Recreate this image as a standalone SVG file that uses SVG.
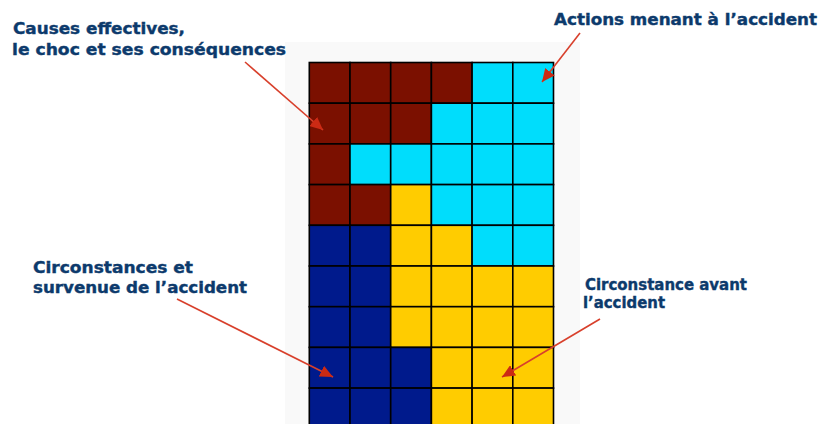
<svg xmlns="http://www.w3.org/2000/svg" width="822" height="424" viewBox="0 0 822 424">
<defs>
<style>
.lbl{font-family:"DejaVu Sans","Liberation Sans",sans-serif;font-weight:bold;font-size:16px;fill:#0c3a6c;stroke:#0c3a6c;stroke-width:0.4}
.c{stroke:#000;stroke-width:1.6}
.b{fill:#7b1000}.y{fill:#ffcc00}.k{fill:#00ddfc}.n{fill:#001a8c}
.arr{stroke:#d8402c;stroke-width:1.6;fill:none;marker-end:url(#ah)}
</style>
<marker id="ah" markerUnits="userSpaceOnUse" markerWidth="14" markerHeight="12" refX="13" refY="6" orient="auto">
<path d="M0,0 L13,6 L0,12 Z" fill="#cc2a14"/>
</marker>
</defs>
<rect width="822" height="424" fill="#fff"/>
<rect x="285" y="42" width="295" height="382" fill="#f9f9f9"/>
<g id="grid">
<g transform="translate(309.3,62.5)">
<!-- row 0 -->
<rect class="c b" x="0" y="0" width="40.7" height="40.7"/><rect class="c b" x="40.7" y="0" width="40.7" height="40.7"/><rect class="c b" x="81.4" y="0" width="40.7" height="40.7"/><rect class="c b" x="122.1" y="0" width="40.7" height="40.7"/><rect class="c k" x="162.8" y="0" width="40.7" height="40.7"/><rect class="c k" x="203.5" y="0" width="40.7" height="40.7"/>
<!-- row 1 -->
<rect class="c b" x="0" y="40.7" width="40.7" height="40.7"/><rect class="c b" x="40.7" y="40.7" width="40.7" height="40.7"/><rect class="c b" x="81.4" y="40.7" width="40.7" height="40.7"/><rect class="c k" x="122.1" y="40.7" width="40.7" height="40.7"/><rect class="c k" x="162.8" y="40.7" width="40.7" height="40.7"/><rect class="c k" x="203.5" y="40.7" width="40.7" height="40.7"/>
<!-- row 2 -->
<rect class="c b" x="0" y="81.4" width="40.7" height="40.7"/><rect class="c k" x="40.7" y="81.4" width="40.7" height="40.7"/><rect class="c k" x="81.4" y="81.4" width="40.7" height="40.7"/><rect class="c k" x="122.1" y="81.4" width="40.7" height="40.7"/><rect class="c k" x="162.8" y="81.4" width="40.7" height="40.7"/><rect class="c k" x="203.5" y="81.4" width="40.7" height="40.7"/>
<!-- row 3 -->
<rect class="c b" x="0" y="122.1" width="40.7" height="40.7"/><rect class="c b" x="40.7" y="122.1" width="40.7" height="40.7"/><rect class="c y" x="81.4" y="122.1" width="40.7" height="40.7"/><rect class="c k" x="122.1" y="122.1" width="40.7" height="40.7"/><rect class="c k" x="162.8" y="122.1" width="40.7" height="40.7"/><rect class="c k" x="203.5" y="122.1" width="40.7" height="40.7"/>
<!-- row 4 -->
<rect class="c n" x="0" y="162.8" width="40.7" height="40.7"/><rect class="c n" x="40.7" y="162.8" width="40.7" height="40.7"/><rect class="c y" x="81.4" y="162.8" width="40.7" height="40.7"/><rect class="c y" x="122.1" y="162.8" width="40.7" height="40.7"/><rect class="c k" x="162.8" y="162.8" width="40.7" height="40.7"/><rect class="c k" x="203.5" y="162.8" width="40.7" height="40.7"/>
<!-- row 5 -->
<rect class="c n" x="0" y="203.5" width="40.7" height="40.7"/><rect class="c n" x="40.7" y="203.5" width="40.7" height="40.7"/><rect class="c y" x="81.4" y="203.5" width="40.7" height="40.7"/><rect class="c y" x="122.1" y="203.5" width="40.7" height="40.7"/><rect class="c y" x="162.8" y="203.5" width="40.7" height="40.7"/><rect class="c y" x="203.5" y="203.5" width="40.7" height="40.7"/>
<!-- row 6 -->
<rect class="c n" x="0" y="244.2" width="40.7" height="40.7"/><rect class="c n" x="40.7" y="244.2" width="40.7" height="40.7"/><rect class="c y" x="81.4" y="244.2" width="40.7" height="40.7"/><rect class="c y" x="122.1" y="244.2" width="40.7" height="40.7"/><rect class="c y" x="162.8" y="244.2" width="40.7" height="40.7"/><rect class="c y" x="203.5" y="244.2" width="40.7" height="40.7"/>
<!-- row 7 -->
<rect class="c n" x="0" y="284.9" width="40.7" height="40.7"/><rect class="c n" x="40.7" y="284.9" width="40.7" height="40.7"/><rect class="c n" x="81.4" y="284.9" width="40.7" height="40.7"/><rect class="c y" x="122.1" y="284.9" width="40.7" height="40.7"/><rect class="c y" x="162.8" y="284.9" width="40.7" height="40.7"/><rect class="c y" x="203.5" y="284.9" width="40.7" height="40.7"/>
<!-- row 8 -->
<rect class="c n" x="0" y="325.6" width="40.7" height="40.7"/><rect class="c n" x="40.7" y="325.6" width="40.7" height="40.7"/><rect class="c n" x="81.4" y="325.6" width="40.7" height="40.7"/><rect class="c y" x="122.1" y="325.6" width="40.7" height="40.7"/><rect class="c y" x="162.8" y="325.6" width="40.7" height="40.7"/><rect class="c y" x="203.5" y="325.6" width="40.7" height="40.7"/>
</g>
</g>
<g id="label-causes">
<text class="lbl" x="13" y="34" textLength="172" lengthAdjust="spacingAndGlyphs">Causes effectives,</text>
<text class="lbl" x="12" y="55" textLength="274" lengthAdjust="spacingAndGlyphs">le choc et ses conséquences</text>
</g>
<g id="label-actions">
<text class="lbl" x="554" y="25" textLength="263" lengthAdjust="spacingAndGlyphs">Actions menant à l’accident</text>
</g>
<g id="label-survenue">
<text class="lbl" x="33" y="273" textLength="160" lengthAdjust="spacingAndGlyphs">Circonstances et</text>
<text class="lbl" x="33" y="293" textLength="214" lengthAdjust="spacingAndGlyphs">survenue de l’accident</text>
</g>
<g id="label-avant">
<text class="lbl" x="585" y="290" textLength="162" lengthAdjust="spacingAndGlyphs">Circonstance avant</text>
<text class="lbl" x="583" y="308" textLength="82" lengthAdjust="spacingAndGlyphs">l’accident</text>
</g>
<g id="connectors">
<line class="arr" x1="245" y1="62" x2="323" y2="130"/>
<line class="arr" x1="580" y1="33" x2="542" y2="82"/>
<line class="arr" x1="177" y1="299" x2="333" y2="377"/>
<line class="arr" x1="600" y1="319" x2="502" y2="377"/>
</g>
</svg>
